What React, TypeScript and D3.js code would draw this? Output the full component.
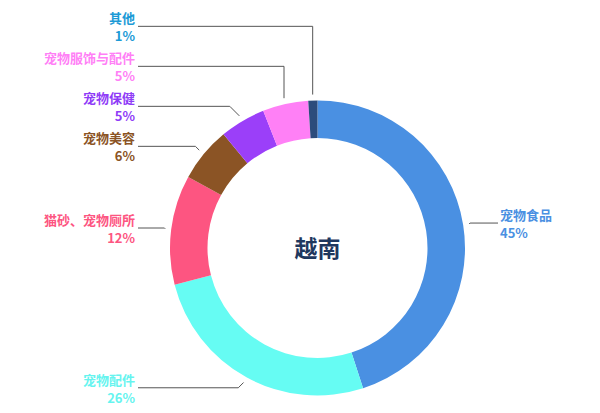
import React from 'react';
import * as d3 from 'd3';

// slices, clockwise from 12 o'clock
const categories = ['宠物食品', '宠物配件', '猫砂、宠物厕所', '宠物美容', '宠物保健', '宠物服饰与配件', '其他'];
const shares = [45, 26, 12, 6, 5, 5, 1];
const sliceColors = ['#4a90e2', '#66fcf3', '#fd5581', '#8b5425', '#9b3ff9', '#ff80f6', '#2c4c7c'];
const labelColors = ['#4a90e2', '#66f4ef', '#fd5581', '#8b5425', '#8f3cf7', '#ff80f6', '#1c9ad6'];
const title = '越南';

const width = 600;
const height = 413;
const cx = 317.5;
const cy = 248;
const outerR = 147.5;
const innerR = 110;
const leftEdge = 138;
const rightEdge = 498;
const labelGap = 40;
const font = '"Noto Sans CJK SC", "Noto Sans", sans-serif';

type Item = { name: string, value: number, i: number };
type Placed = {
    d: d3.PieArcDatum<Item>,
    side: number,
    p0: [number, number],
    y: number,
}

export default function App() {
    const items: Item[] = categories.map((name, i) => ({ name, value: shares[i], i }));
    const pie = d3.pie<Item>().sort(null).value(d => d.value);
    const arcs = pie(items);
    const arc = d3.arc<d3.PieArcDatum<Item>>().innerRadius(innerR).outerRadius(outerR);

    const ray = (a: number, r: number): [number, number] => [cx + r * Math.sin(a), cy - r * Math.cos(a)];

    const placed: Placed[] = arcs.map(d => {
        const mid = (d.startAngle + d.endAngle) / 2;
        const side = Math.sin(mid) >= 0 ? 1 : -1;
        return { d, side, p0: ray(mid, outerR + 6), y: ray(mid, outerR + 12)[1] };
    });

    // push overlapping labels upward, per side
    [-1, 1].forEach(side => {
        const group = placed.filter(p => p.side === side).sort((a, b) => a.y - b.y);
        for (let k = group.length - 2; k >= 0; k--) {
            group[k].y = Math.min(group[k].y, group[k + 1].y - labelGap);
        }
    });

    const linePath = (p: Placed) => {
        const [x0, y0] = p.p0;
        const dy = p.y - y0;
        const dx = Math.abs(dy) <= 15 ? Math.abs(dy) : 0;
        const x1 = x0 + p.side * dx;
        const xEnd = p.side < 0 ? leftEdge : rightEdge;
        return d3.line()([[x0, y0], [x1, p.y], [xEnd, p.y]]);
    };

    return (
        <svg width={width} height={height} style={{ position: 'absolute', left: 0, top: 0, background: '#fff' }}>
            <g>
                {arcs.map(d => (
                    <path key={d.data.name} d={arc(d) || ''} transform={`translate(${cx},${cy})`} fill={sliceColors[d.data.i]} />
                ))}
            </g>
            <g fill="none" stroke="#555" strokeWidth={1}>
                {placed.map(p => <path key={p.d.data.name} d={linePath(p) || ''} />)}
            </g>
            <g fontFamily={font} fontSize={13} fontWeight="bold">
                {placed.map(p => {
                    const x = p.side < 0 ? leftEdge - 3 : rightEdge + 2;
                    const anchor = p.side < 0 ? 'end' : 'start';
                    const color = labelColors[p.d.data.i];
                    return (
                        <g key={p.d.data.name} fill={color} textAnchor={anchor}>
                            <text x={x} y={p.y - 3}>{p.d.data.name}</text>
                            <text x={x} y={p.y + 15}>{`${p.d.data.value}%`}</text>
                        </g>
                    );
                })}
            </g>
            <text x={cx} y={cy + 9} textAnchor="middle" fontFamily={font} fontSize={23} fontWeight="bold" fill="#1f385e">{title}</text>
        </svg>
    );
}
